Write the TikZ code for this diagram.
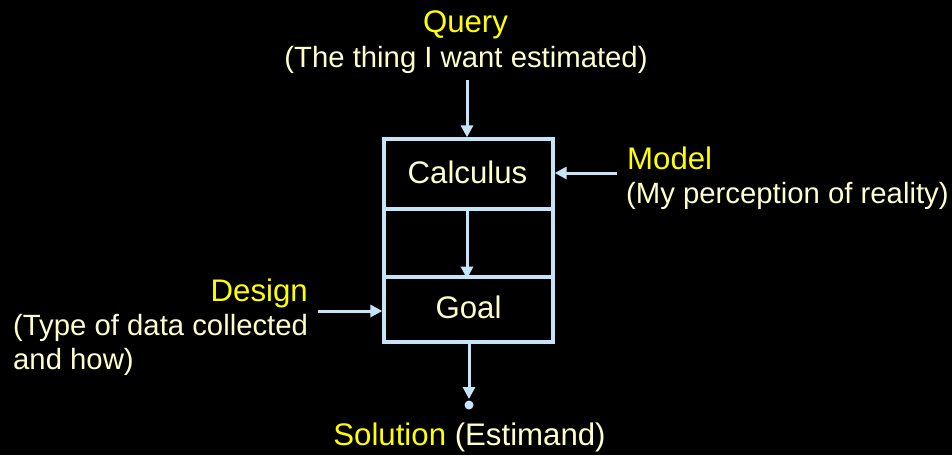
\documentclass[tikz,border=0pt]{standalone}
\usepackage{fontspec}
\setmainfont{Liberation Sans}
\usetikzlibrary{arrows.meta}
\definecolor{lineblue}{RGB}{198,228,248}
\definecolor{hiyellow}{RGB}{255,255,0}
\definecolor{cream}{RGB}{255,255,204}
\tikzset{
  txt/.style={inner sep=0pt, font=\fontsize{29.3}{34}\selectfont},
  bigtxt/.style={inner sep=0pt, font=\fontsize{31.2}{36}\selectfont},
  title/.style={bigtxt, text=hiyellow},
  sub/.style={txt, text=cream},
  cell/.style={draw=lineblue, line width=3.3pt, minimum width=169pt, inner sep=0pt},
  conn/.style={draw=lineblue, line width=3pt, -{Triangle[length=12pt,width=12pt]}},
}
\begin{document}
\begin{tikzpicture}[x=1pt,y=-1pt]
\fill[black] (0,0) rectangle (952,455);
\useasboundingbox (0,0) rectangle (952,455);
% box cells
\node[cell, minimum height=70pt] (calc) at (468.5,174) {};
\node[cell, minimum height=68pt] (mid) at (468.5,243) {};
\node[cell, minimum height=65pt] (goal) at (468.5,309.5) {};
\node[bigtxt, text=cream, anchor=base] (calctxt) at (467.5,183) {Calculus};
\node[bigtxt, text=cream, anchor=base] (goaltxt) at (468.5,318) {Goal};
% texts
\node[title, anchor=base] (query) at (465.5,32) {Query};
\node[sub, anchor=base] (querysub) at (466,67) {(The thing I want estimated)};
\node[title, anchor=base west] (model) at (627,169) {Model};
\node[sub, anchor=base west] (modelsub) at (626,203) {(My perception of reality)};
\node[title, anchor=base east] (design) at (308,301) {Design};
\node[sub, anchor=base west] (designsub) at (13,335) {(Type of data collected};
\node[sub, anchor=base west] (designsub2) at (13,369) {and how)};
\node[bigtxt, anchor=base] (sol) at (469.5,445) {\textcolor{hiyellow}{Solution} \textcolor{cream}{(Estimand)}};
% connector anchors
\coordinate (qstart) at (467,80);
\coordinate (mstart) at (617,173);
\coordinate (dstart) at (318,311);
\coordinate (solend) at (469,399);
% connectors
\draw[conn] (qstart) -- (qstart |- calc.north);
\draw[conn] (mid.north -| 467,0) -- (mid.south -| 467,0);
\draw[conn] (mstart) -- (mstart -| calc.east);
\draw[conn] (dstart) -- (dstart -| goal.west);
\draw[conn] (goal.south -| solend) -- (solend);
\fill[lineblue] (469,405) circle (4.5);
\end{tikzpicture}
\end{document}
